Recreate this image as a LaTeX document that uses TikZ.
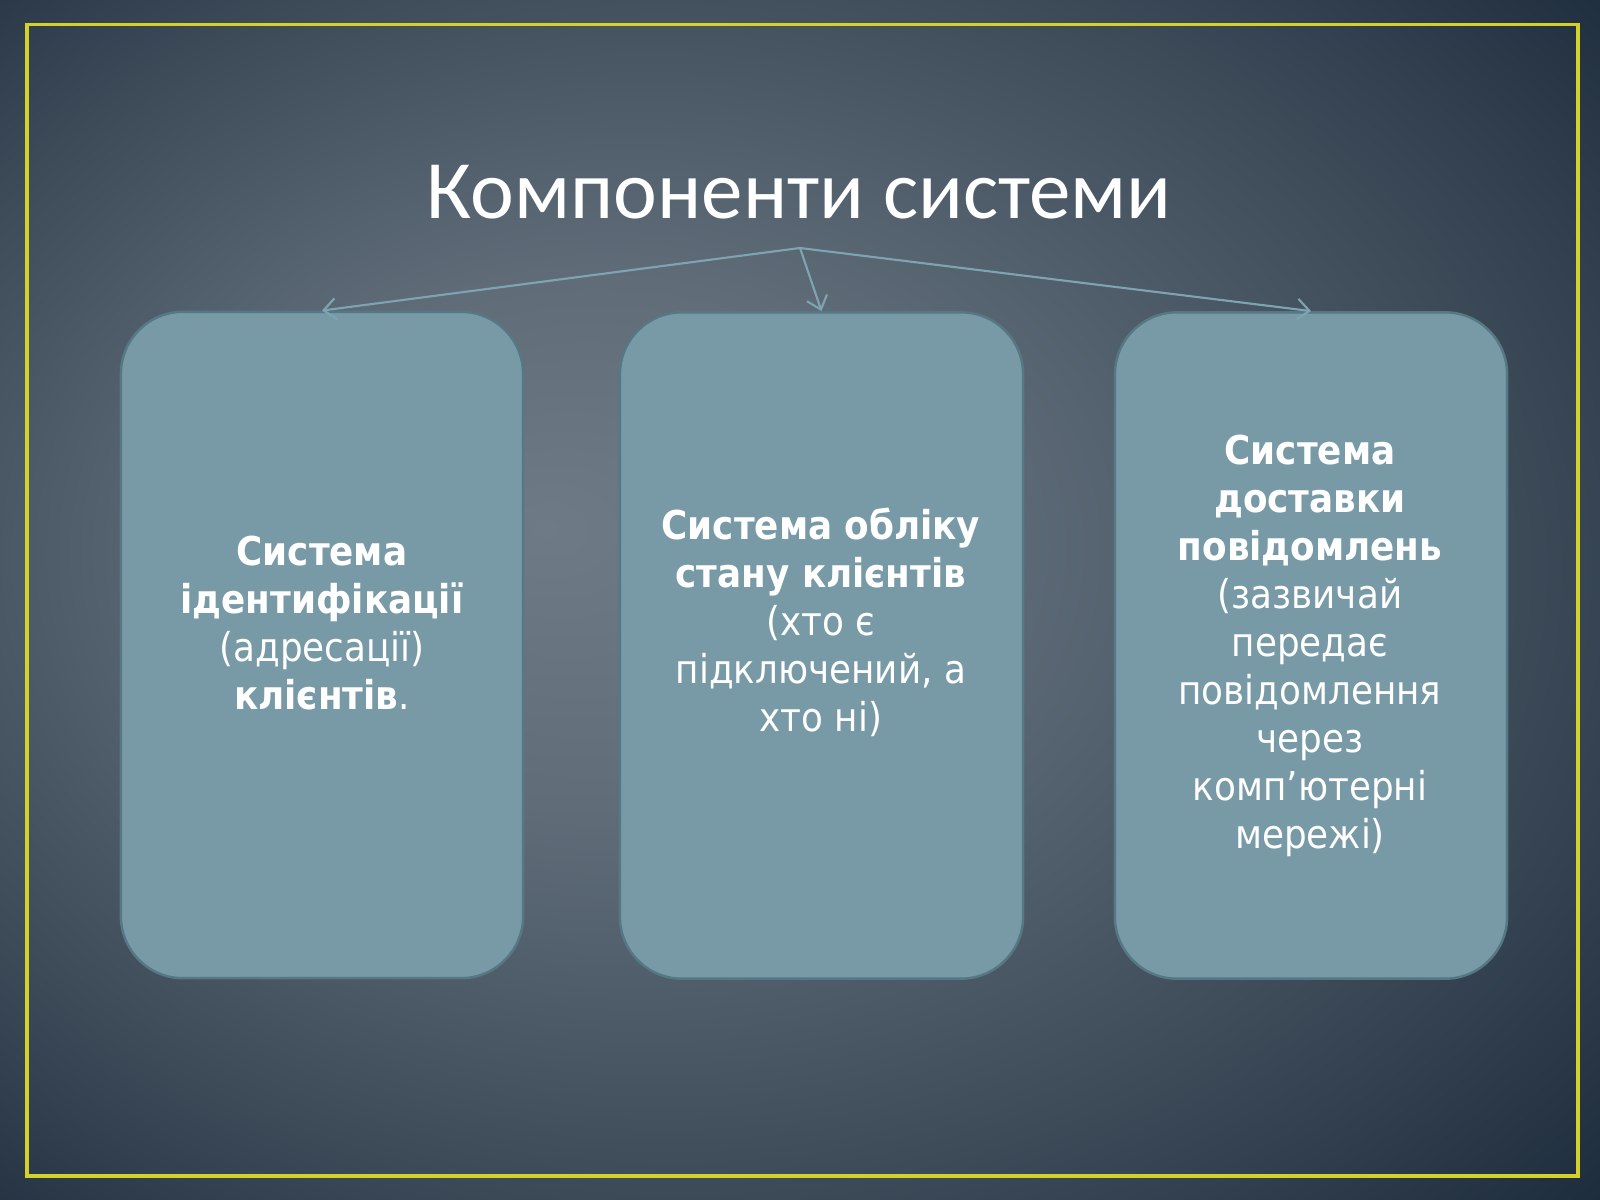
\documentclass[tikz,border=0pt]{standalone}
\usepackage{fontspec}
\setmainfont{DejaVu Sans Condensed}
\newfontfamily\titlefont{Carlito}
\usetikzlibrary{arrows.meta}
\definecolor{boxfill}{HTML}{789AA6}
\definecolor{boxline}{HTML}{557884}
\definecolor{connline}{HTML}{7FA4B1}
\definecolor{framecol}{HTML}{D4D12B}
\definecolor{bgmid}{HTML}{6E7B86}
\definecolor{bgmidb}{HTML}{606D79}
\definecolor{bgedge}{HTML}{3D4B59}
\definecolor{bgdark}{HTML}{1C2B3B}
\pgfdeclareradialshading{slidebg}{\pgfpoint{-8bp}{3bp}}{color(0bp)=(bgmid); color(11bp)=(bgmidb); color(26bp)=(bgedge); color(38bp)=(bgdark); color(50bp)=(bgdark)}

\begin{document}
\begin{tikzpicture}[x=0.01cm, y=-0.01cm, font=\fontsize{11.3}{13.66}\selectfont,
	box/.style={draw=boxline, line width=0.7pt, fill=boxfill, rounded corners=0.62cm, minimum width=4.02cm, minimum height=6.66cm},
	txt/.style={text=white, align=center},
	conn/.style={draw=connline, line width=0.6pt, -{Straight Barb[length=3.5pt, width=6pt]}}]

	\shade[shading=slidebg] (0,0) rectangle (1600,1200);
	\draw[framecol, line width=1pt] (27,24.5) rectangle (1578,1176);

	\node[text=white, font=\titlefont\fontsize{23.6}{28}\selectfont, anchor=base] (title) at (799,218) {Компоненти системи};
	\coordinate (top) at (800,248);

	\node[box] (ident) at (322,645) {};
	\node[box, minimum width=4.03cm] (state) at (821.5,645.5) {};
	\node[box, minimum width=3.92cm] (deliv) at (1311,645.5) {};

	\node[txt] (identtxt) at (322,623) {\textbf{Система}\\\textbf{ідентифікації}\\(адресації)\\\textbf{клієнтів}.};
	\node[txt] (statetxt) at (821,622) {\textbf{Система обліку}\\\textbf{стану клієнтів}\\(хто є\\підключений, а\\хто ні)};
	\node[txt] (delivtxt) at (1310,646) {\textbf{Система}\\\textbf{доставки}\\\textbf{повідомлень}\\(зазвичай\\передає\\повідомлення\\через\\комп’ютерні\\мережі)};

	\draw[conn] (top) -- (ident.north);
	\draw[conn] (top) -- (state.north);
	\draw[conn] (top) -- (deliv.north);

\end{tikzpicture}
\end{document}
